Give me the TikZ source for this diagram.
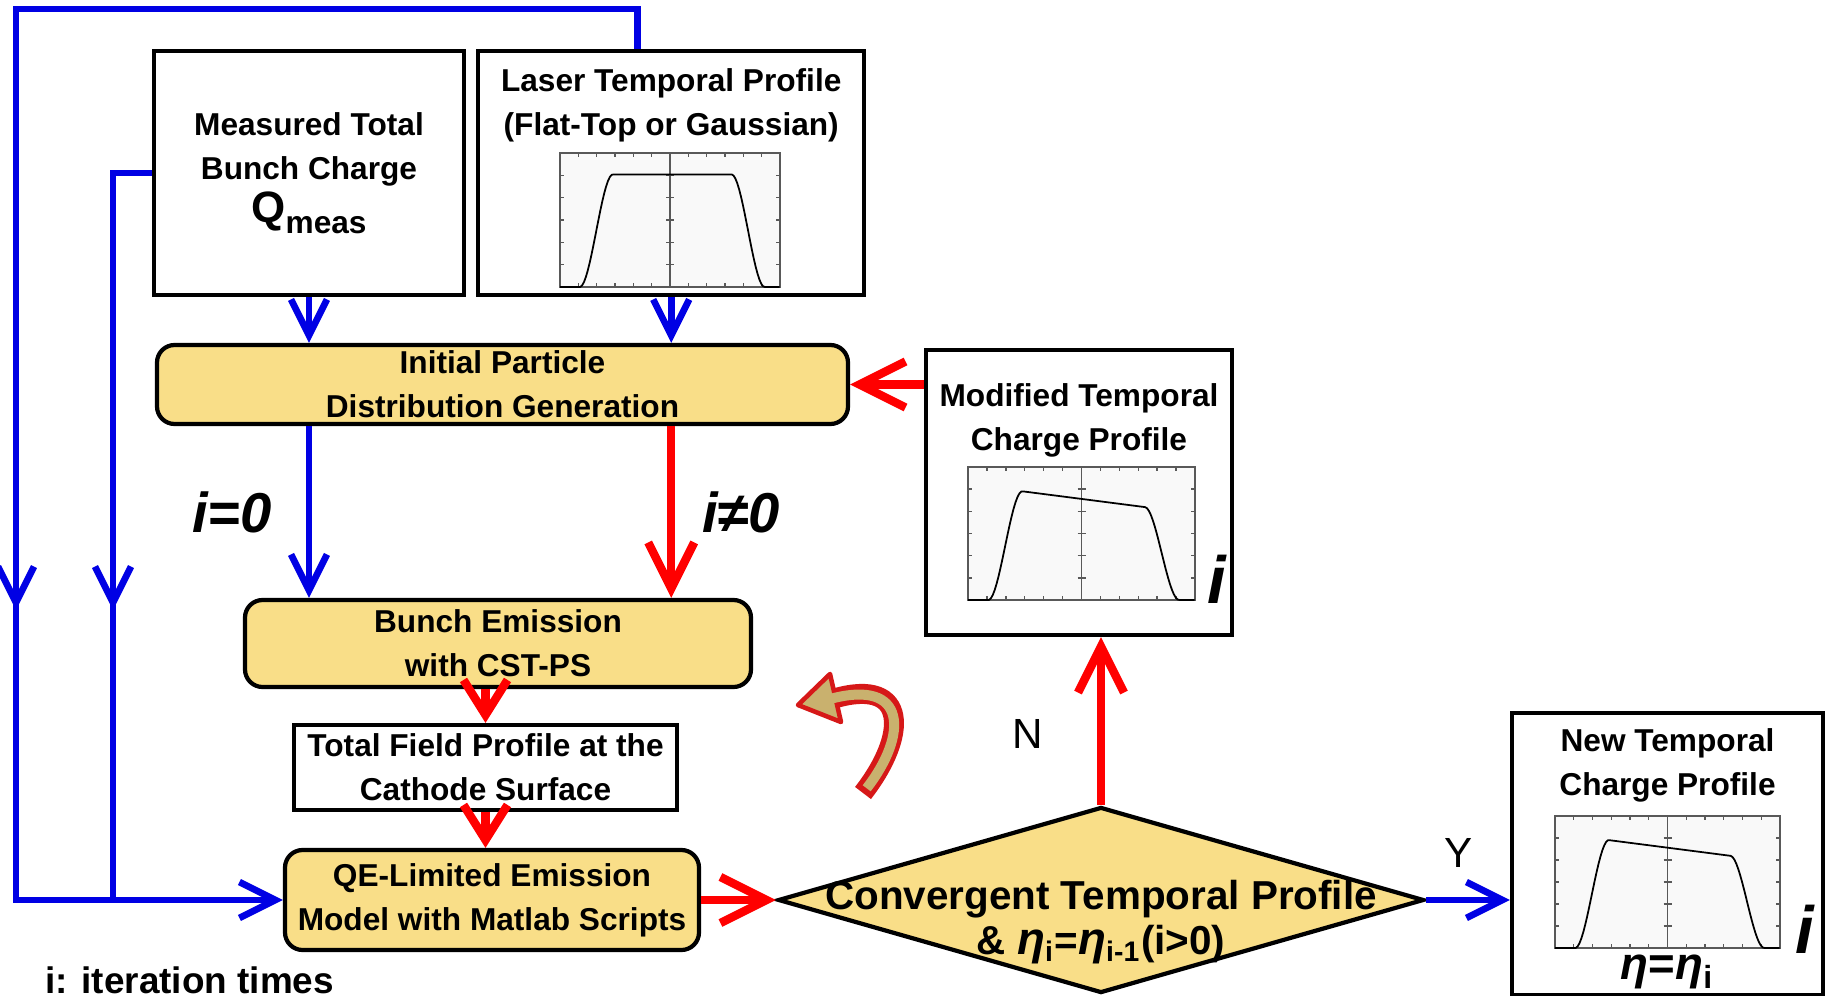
\documentclass[tikz,border=0pt]{standalone}
\usepackage{fontspec}
\setmainfont{Liberation Sans}
\usetikzlibrary{arrows.meta, positioning, shapes.geometric}

\definecolor{stageyellow}{RGB}{249,222,136}
\definecolor{loopblue}{RGB}{0,0,228}
\definecolor{iterred}{RGB}{255,0,0}
\definecolor{swirltan}{RGB}{201,177,110}
\definecolor{swirlred}{RGB}{214,24,24}

\begin{document}
\begin{tikzpicture}[
  declare function={ramp(\t)=min(max(\t,0),1); sstep(\t)=ramp(\t)*ramp(\t)*(3-2*ramp(\t));},
  box/.style={rectangle, draw=black, line width=1.2pt, align=center, inner sep=0pt,
             font=\fontsize{9}{12.5}\selectfont\bfseries},
  inputbox/.style={box, fill=white},
  stagebox/.style={box, fill=stageyellow, rounded corners=5pt},
  checkbox/.style={diamond, draw=black, line width=1.2pt, fill=stageyellow, inner sep=0pt},
  boxtitle/.style={align=center, inner sep=0pt, font=\fontsize{9}{12.5}\selectfont\bfseries},
  condlabel/.style={text=black, font=\fontsize{16}{16}\selectfont\bfseries\itshape},
  branchlabel/.style={text=black, font=\fontsize{12}{12}\selectfont},
  iterlabel/.style={font=\fontsize{19}{19}\selectfont\bfseries\itshape, inner sep=0pt},
  blueline/.style={line width=1.9pt, color=loopblue},
  bluearrow/.style={blueline, -{Straight Barb[length=3.6mm, width=3.6mm]}},
  redarrow/.style={line width=2.4pt, color=iterred, -{Straight Barb[length=4.6mm, width=4.6mm]}},
  shortred/.style={redarrow, -{Straight Barb[length=3.5mm, width=4.4mm]}}
]
\useasboundingbox (0,0) rectangle (18.27,-9.96);

% input boxes
\node[inputbox, minimum width=3.10cm, minimum height=2.44cm] (meas) at (3.09,-1.73)
  {Measured Total\\Bunch Charge\\{\fontsize{12.5}{12.5}\selectfont Q}\raisebox{-3pt}{meas}};
\node[inputbox, minimum width=3.86cm, minimum height=2.44cm, right=0.10cm of meas] (laser) {};
\node[boxtitle, below=0.19cm of laser.north] (lasertitle) {Laser Temporal Profile\\(Flat-Top or Gaussian)};

% simulation chain
\node[stagebox, minimum width=6.91cm, minimum height=0.79cm] (init) at (5.025,-3.845)
  {Initial Particle\\Distribution Generation};
\node[stagebox, minimum width=5.06cm, minimum height=0.87cm] (bunch) at (4.98,-6.435)
  {Bunch Emission\\with CST-PS};
\node[inputbox, minimum width=3.83cm, minimum height=0.85cm] (total) at (4.855,-7.675)
  {Total Field Profile at the\\Cathode Surface};
\node[stagebox, minimum width=4.14cm, minimum height=1.00cm] (qe) at (4.92,-9.00)
  {QE-Limited Emission\\Model with Matlab Scripts};

% convergence check and profiles
\node[checkbox, minimum width=6.46cm, minimum height=1.86cm] (dia) at (11.01,-9.00) {};
\node[font=\fontsize{11.5}{13}\selectfont\bfseries, align=center, inner sep=0pt] (diatext)
  at ([yshift=-0.22cm]dia.center)
  {Convergent Temporal Profile\\\& {\fontsize{13}{13}\selectfont\itshape η}\textsubscript{i}={\fontsize{13}{13}\selectfont\itshape η}\textsubscript{i-1}(i>0)};
\node[inputbox, minimum width=3.06cm, minimum height=2.85cm] (mod) at (10.79,-4.925) {};
\node[boxtitle, below=0.35cm of mod.north] (modtitle) {Modified Temporal\\Charge Profile};
\node[inputbox, minimum width=3.11cm, minimum height=2.82cm] (new) at (16.675,-8.54) {};
\node[boxtitle, below=0.17cm of new.north] (newtitle) {New Temporal\\Charge Profile};
\node[font=\fontsize{13}{13}\selectfont\bfseries, inner sep=0pt] (neweta) at ([yshift=0.25cm]new.south)
  {{\itshape η}={\itshape η}\textsubscript{i}};
\node[iterlabel] (modi) at ([xshift=-0.17cm, yshift=0.58cm]mod.south east) {i};
\node[iterlabel] (newi) at ([xshift=-0.20cm, yshift=0.68cm]new.south east) {i};

% small temporal profile plots
\foreach \fx/\fy/\fw/\fh/\tilt in {5.60/-2.87/2.20/1.34/0, 9.68/-6.00/2.27/1.33/1, 15.55/-9.48/2.25/1.32/1} {
  \begin{scope}[shift={(\fx,\fy)}, line width=0.4pt]
    \filldraw[fill=gray!5, draw=gray!70!black] (0,0) rectangle (\fw,\fh);
    \draw[gray!70!black] (\fw/2,0) -- (\fw/2,\fh);
    \foreach \k in {1,...,11} {
      \draw[gray!70!black] (\k*\fw/12,0) -- ++(0,0.04) (\k*\fw/12,\fh) -- ++(0,-0.04);
    }
    \foreach \k in {1,...,5} {
      \draw[gray!70!black] (0,\k*\fh/6) -- ++(0.04,0) (\fw,\k*\fh/6) -- ++(-0.04,0)
        (\fw/2-0.04,\k*\fh/6) -- ++(0.08,0);
    }
    \draw[black, line width=0.5pt] plot[domain=0:1, samples=120]
      ({\x*\fw}, {\fh*(0.84+\tilt*(0.03-0.22*\x))*sstep((\x-0.09)/0.15)*sstep((0.93-\x)/0.15)});
  \end{scope}
}

% feedback loops of the inputs
\coordinate (loopTop) at (0.16,-0.09);
\coordinate (loopArrow) at (0.16,-6.10);
\coordinate (loopBot) at (0.16,-9.00);
\coordinate (sideArrow) at (1.13,-6.10);
\coordinate (sideBot) at (1.13,-9.00);
\draw[bluearrow] ([xshift=-0.34cm]laser.north) |- (loopTop) -- (loopBot) -- (qe.west);
\draw[bluearrow] (loopTop) -- (loopArrow);
\draw[blueline] (meas.west) -| (sideBot);
\draw[bluearrow] (meas.west -| sideBot) -- (sideArrow);

% main flow
\draw[bluearrow] (meas.south) -- (meas.south |- init.north);
\draw[bluearrow] (laser.south) -- (laser.south |- init.north);
\draw[bluearrow] (init.south -| meas.south) -- (bunch.north -| meas.south)
  node[condlabel, midway, left=0.22cm] (izero) {i=0};
\draw[redarrow] (init.south -| laser.south) -- (bunch.north -| laser.south)
  node[condlabel, midway, right=0.15cm] (inonzero) {i≠0};
\draw[shortred] (bunch.south -| total.north) -- (total.north);
\draw[shortred] (total.south) -- (qe.north -| total.south);
\draw[redarrow] (qe.east) -- (dia.west);
\draw[redarrow] (dia.north) -- (mod.south -| dia.north)
  node[branchlabel, pos=0.42, left=0.42cm] (nolabel) {N};
\draw[redarrow] (mod.west |- init.east) -- (init.east);
\draw[bluearrow] (dia.east) -- (new.west |- dia.east)
  node[branchlabel, pos=0.39, above=0.17cm] (yeslabel) {Y};

% iteration sign
\draw[swirlred, line width=0.2cm] (8.63,-7.93) .. controls (9.08,-7.35) and (9.08,-6.78) .. (8.36,-6.98);
\filldraw[fill=swirltan, draw=swirlred, line width=1.3pt, line join=round]
  (7.98,-7.05) -- (8.30,-6.74) -- (8.41,-7.22) -- cycle;
\draw[swirltan, line width=0.1cm, shorten <=0.06cm] (8.63,-7.93) .. controls (9.08,-7.35) and (9.08,-6.78) .. (8.30,-6.99);

\node[font=\fontsize{10.5}{12}\selectfont\bfseries, anchor=base west] (note) at (0.33,-9.93) {i: iteration times};

\end{tikzpicture}
\end{document}
